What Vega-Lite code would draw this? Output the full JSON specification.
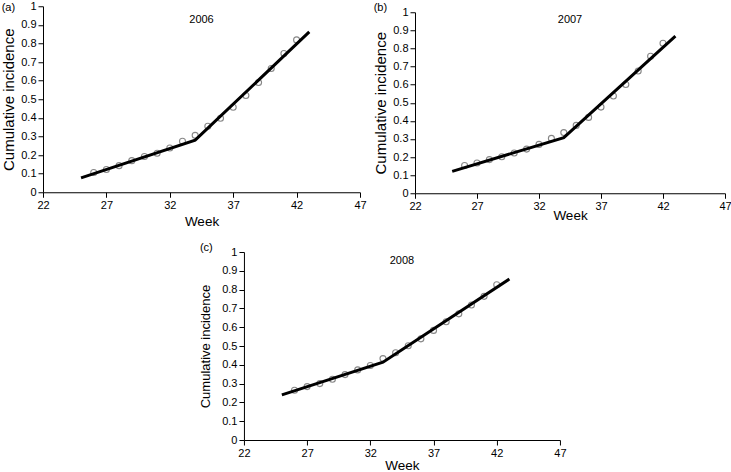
{
  "$schema": "https://vega.github.io/schema/vega-lite/v6.json",
  "padding": {"left": 1, "top": 0, "right": 0, "bottom": 0},
  "background": "white",
  "config": {
    "view": {"stroke": null},
    "font": "Liberation Sans",
    "axis": {
      "grid": false,
      "domainColor": "black",
      "tickColor": "black",
      "labelColor": "black",
      "titleColor": "black",
      "labelFont": "Liberation Sans",
      "titleFont": "Liberation Sans",
      "labelFontSize": 11,
      "titleFontSize": 13.5,
      "titleFontWeight": "normal",
      "tickSize": 5,
      "labelFlush": false
    },
    "title": {"font": "Liberation Sans", "fontSize": 11, "fontWeight": "normal", "color": "black"}
  },
  "datasets": {
    "a_pts": [
      {"week": 26, "inc": 0.106}, {"week": 27, "inc": 0.122}, {"week": 28, "inc": 0.143},
      {"week": 29, "inc": 0.170}, {"week": 30, "inc": 0.192}, {"week": 31, "inc": 0.210},
      {"week": 32, "inc": 0.238}, {"week": 33, "inc": 0.274}, {"week": 34, "inc": 0.306},
      {"week": 35, "inc": 0.355}, {"week": 36, "inc": 0.398}, {"week": 37, "inc": 0.457},
      {"week": 38, "inc": 0.520}, {"week": 39, "inc": 0.590}, {"week": 40, "inc": 0.665},
      {"week": 41, "inc": 0.746}, {"week": 42, "inc": 0.819}
    ],
    "a_fit": [{"week": 25, "inc": 0.077}, {"week": 34, "inc": 0.280}, {"week": 43, "inc": 0.862}],
    "b_pts": [
      {"week": 26, "inc": 0.153}, {"week": 27, "inc": 0.167}, {"week": 28, "inc": 0.186},
      {"week": 29, "inc": 0.202}, {"week": 30, "inc": 0.222}, {"week": 31, "inc": 0.244},
      {"week": 32, "inc": 0.270}, {"week": 33, "inc": 0.303}, {"week": 34, "inc": 0.335},
      {"week": 35, "inc": 0.375}, {"week": 36, "inc": 0.419}, {"week": 37, "inc": 0.476},
      {"week": 38, "inc": 0.537}, {"week": 39, "inc": 0.601}, {"week": 40, "inc": 0.675},
      {"week": 41, "inc": 0.757}, {"week": 42, "inc": 0.829}
    ],
    "b_fit": [{"week": 25, "inc": 0.121}, {"week": 34, "inc": 0.307}, {"week": 43, "inc": 0.868}],
    "c_pts": [
      {"week": 26, "inc": 0.265}, {"week": 27, "inc": 0.284}, {"week": 28, "inc": 0.300},
      {"week": 29, "inc": 0.323}, {"week": 30, "inc": 0.348}, {"week": 31, "inc": 0.373},
      {"week": 32, "inc": 0.396}, {"week": 33, "inc": 0.433}, {"week": 34, "inc": 0.464},
      {"week": 35, "inc": 0.501}, {"week": 36, "inc": 0.538}, {"week": 37, "inc": 0.583},
      {"week": 38, "inc": 0.629}, {"week": 39, "inc": 0.671}, {"week": 40, "inc": 0.718},
      {"week": 41, "inc": 0.764}, {"week": 42, "inc": 0.826}
    ],
    "c_fit": [{"week": 25, "inc": 0.240}, {"week": 33, "inc": 0.414}, {"week": 43, "inc": 0.856}]
  },
  "vconcat": [
    {
      "hconcat": [
        {
          "title": {"text": "(a)", "anchor": "start", "offset": -13},
          "vconcat": [
            {
              "width": 317, "height": 186,
              "title": {"text": "2006", "anchor": "middle", "frame": "group", "offset": -25},
              "encoding": {
                "x": {"field": "week", "type": "quantitative", "scale": {"domain": [22, 47], "nice": false, "zero": false},
                      "axis": {"values": [22, 27, 32, 37, 42, 47], "format": "d", "title": "Week"}},
                "y": {"field": "inc", "type": "quantitative", "scale": {"domain": [0, 1], "nice": false},
                      "axis": {"values": [0, 0.1, 0.2, 0.3, 0.4, 0.5, 0.6, 0.7, 0.8, 0.9, 1], "format": "~g", "title": "Cumulative incidence", "titleFontSize": 15}}
              },
              "layer": [
                {"data": {"name": "a_pts"}, "mark": {"type": "point", "shape": "circle", "filled": false, "stroke": "#555", "strokeWidth": 1.1, "size": 36}},
                {"data": {"name": "a_fit"}, "mark": {"type": "line", "color": "black", "strokeWidth": 3}}
              ]
            }
          ]
        },
        {
          "title": {"text": "(b)", "anchor": "start", "offset": -7},
          "vconcat": [
            {
              "width": 310, "height": 181,
              "title": {"text": "2007", "anchor": "middle", "frame": "group", "offset": -19},
              "encoding": {
                "x": {"field": "week", "type": "quantitative", "scale": {"domain": [22, 47], "nice": false, "zero": false},
                      "axis": {"values": [22, 27, 32, 37, 42, 47], "format": "d", "title": "Week", "titlePadding": -3}}
              },
              "layer": [
                {"data": {"name": "b_pts"}, "mark": {"type": "point", "shape": "circle", "filled": false, "stroke": "#555", "strokeWidth": 1.1, "size": 36},
                 "encoding": {"y": {"field": "inc", "type": "quantitative", "scale": {"domain": [0, 1], "nice": false},
                      "axis": {"values": [0, 0.1, 0.2, 0.3, 0.4, 0.5, 0.6, 0.7, 0.8, 0.9, 1], "format": "~g", "title": "Cumulative incidence", "titleFontSize": 15}}}},
                {"data": {"name": "b_fit"}, "mark": {"type": "line", "color": "black", "strokeWidth": 3},
                 "encoding": {"y": {"field": "inc", "type": "quantitative",
                      "axis": {"orient": "right", "labels": false, "ticks": false, "domain": false, "grid": false, "title": null, "minExtent": 42}}}}
              ],
              "resolve": {"axis": {"y": "independent"}}
            }
          ]
        }
      ],
      "spacing": 6,
      "center": true
    },
    {
      "title": {"text": "(c)", "anchor": "start", "offset": -7},
      "vconcat": [
        {
          "width": 316, "height": 188,
          "title": {"text": "2008", "anchor": "middle", "frame": "group", "offset": -20},
          "encoding": {
            "x": {"field": "week", "type": "quantitative", "scale": {"domain": [22, 47], "nice": false, "zero": false},
                  "axis": {"values": [22, 27, 32, 37, 42, 47], "format": "d", "title": "Week", "titlePadding": 0}},
            "y": {"field": "inc", "type": "quantitative", "scale": {"domain": [0, 1], "nice": false},
                  "axis": {"values": [0, 0.1, 0.2, 0.3, 0.4, 0.5, 0.6, 0.7, 0.8, 0.9, 1], "format": "~g", "title": "Cumulative incidence", "titleFontSize": 13, "titleX": -31}}
          },
          "layer": [
            {"data": {"name": "c_pts"}, "mark": {"type": "point", "shape": "circle", "filled": false, "stroke": "#555", "strokeWidth": 1.1, "size": 36}},
            {"data": {"name": "c_fit"}, "mark": {"type": "line", "color": "black", "strokeWidth": 3}}
          ]
        }
      ]
    }
  ],
  "spacing": 14,
  "center": true
}
